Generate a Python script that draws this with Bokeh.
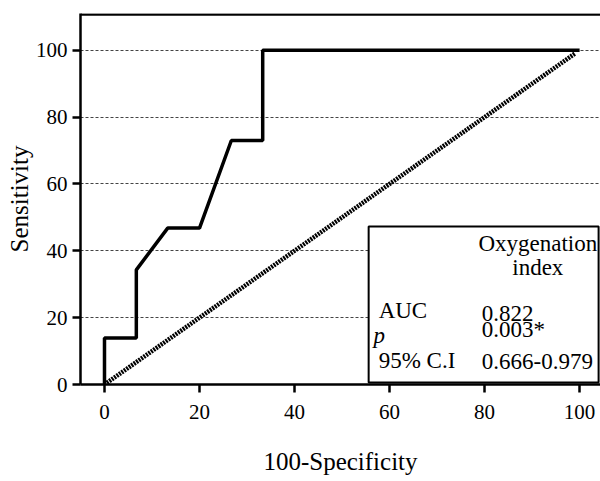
from bokeh.plotting import figure
from bokeh.models import Range1d, BoxAnnotation, Label, Span, FixedTicker
from bokeh.embed import file_html
from bokeh.resources import INLINE

# Data
roc_x = [0, 0, 6.7, 6.7, 13.3, 20.0, 26.7, 33.3, 33.3, 100]
roc_y = [0, 13.9, 13.9, 34.3, 46.8, 46.8, 73.0, 73.0, 100, 100]
diag_x = [0.5, 99]
diag_y = [0.5, 99]
x_ticks = [0, 20, 40, 60, 80, 100]
y_ticks = [0, 20, 40, 60, 80, 100]
table_title = ["Oxygenation", "index"]
row_names = ["AUC", "p", "95% C.I"]
row_values = ["0.822", "0.003*", "0.666-0.979"]

FONT = "Liberation Serif"
TICK_FS = "21px"
TABLE_FS = "23px"

p = figure(width=600, height=481, output_backend="svg", toolbar_location=None,
           x_range=Range1d(-5.05, 104.4), y_range=Range1d(0, 111),
           min_border_left=80, min_border_right=0, min_border_top=13, min_border_bottom=97)
p.outline_line_color = None
p.background_fill_color = "white"

p.line(roc_x, roc_y, line_color="black", line_width=3.5)
p.line(diag_x, diag_y, line_color="black", line_width=4.5, line_dash="2 1")

# axes styling
for ax in (p.xaxis[0], p.yaxis[0]):
    ax.axis_line_width = 2.5
    ax.axis_line_color = "black"
    ax.major_tick_line_width = 2.5
    ax.major_tick_line_color = "black"
    ax.minor_tick_line_color = None
    ax.major_tick_in = 0
    ax.major_label_text_font = FONT
    ax.major_label_text_font_size = TICK_FS
    ax.major_label_text_color = "black"
    ax.axis_label_text_font = FONT
    ax.axis_label_text_font_style = "normal"
    ax.axis_label_text_color = "black"

p.xaxis.axis_label_text_font_size = "25px"
p.yaxis.axis_label_text_font_size = "25px"
p.xaxis.ticker = FixedTicker(ticks=x_ticks)
p.yaxis.ticker = FixedTicker(ticks=y_ticks)
p.xaxis.major_tick_out = 8
p.yaxis.major_tick_out = 8
p.xaxis.major_label_standoff = 12
p.yaxis.major_label_standoff = 5
p.xaxis.axis_label = "100-Specificity"
p.yaxis.axis_label = "Sensitivity"
p.xaxis.axis_label_standoff = 26
p.yaxis.axis_label_standoff = 0

p.xgrid.grid_line_color = None
p.ygrid.grid_line_color = "#444444"
p.ygrid.grid_line_width = 1
p.ygrid.grid_line_dash = "3 2"

# top border
p.add_layout(Span(location=110.7, dimension="width", line_color="black", line_width=2.5))

# table box
p.add_layout(BoxAnnotation(left=55.6, right=104.0, bottom=0.6, top=47.3,
                           fill_color="white", fill_alpha=1.0,
                           line_color="black", line_alpha=1.0, line_width=2))
p.segment(x0=[55.6], y0=[28.4], x1=[104.0], y1=[28.4], line_color="black", line_width=2)

p.add_layout(Label(x=91.2, y=42.2, text=table_title[0], text_font=FONT, text_font_size=TABLE_FS,
                   text_align="center", text_baseline="middle", text_color="black"))
p.add_layout(Label(x=91.2, y=35.0, text=table_title[1], text_font=FONT, text_font_size=TABLE_FS,
                   text_align="center", text_baseline="middle", text_color="black"))

name_pos = [(57.7, 22.2, "normal"), (56.6, 14.8, "italic"), (57.7, 7.2, "normal")]
val_pos = [(79.4, 21.3), (79.4, 16.5), (79.4, 6.9)]
for name, (x, y, st) in zip(row_names, name_pos):
    p.add_layout(Label(x=x, y=y, text=name, text_font=FONT, text_font_size=TABLE_FS,
                       text_font_style=st, text_align="left", text_baseline="middle",
                       text_color="black"))
for val, (x, y) in zip(row_values, val_pos):
    p.add_layout(Label(x=x, y=y, text=val, text_font=FONT, text_font_size=TABLE_FS,
                       text_align="left", text_baseline="middle", text_color="black"))

open("out.html", "w").write(file_html(p, INLINE))
